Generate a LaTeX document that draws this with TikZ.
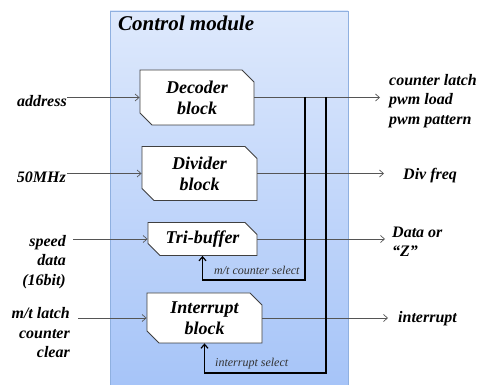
\documentclass[tikz,border=0pt]{standalone}
\usepackage{fontspec}
\setmainfont{Liberation Serif}
\usetikzlibrary{shapes.misc,arrows.meta}
\definecolor{modtop}{HTML}{DEE9FC}
\definecolor{modbot}{HTML}{A6C4F8}
\definecolor{modedge}{HTML}{8FB0E0}
\definecolor{wire}{HTML}{555555}
\tikzset{
  block/.style={chamfered rectangle, chamfered rectangle corners={north east,south west},
    chamfered rectangle xsep=6pt, chamfered rectangle ysep=6pt,
    draw=black!75, line width=0.8pt, fill=white, inner sep=0pt, align=center,
    font=\fontsize{18}{21}\selectfont\bfseries\itshape},
  sig/.style={font=\fontsize{16}{19.5}\selectfont\bfseries\itshape, inner sep=0pt},
  sel/.style={font=\fontsize{12}{13}\selectfont\itshape, inner sep=0pt, text=black!80},
  wirein/.style={draw=wire, line width=0.7pt, -{Straight Barb[length=4pt,width=7pt]}},
  selwire/.style={draw=black, line width=1.2pt, -{Straight Barb[length=4pt,width=7pt]}}
}
\begin{document}
\begin{tikzpicture}[x=1pt,y=-1pt]
\useasboundingbox (0,0) rectangle (483,385);
% module frame with vertical gradient
\shade[top color=modtop, bottom color=modbot] (110,11) rectangle (348,386);
\draw[modedge, line width=0.8pt] (110,386) -- (110,11) -- (348,11) -- (348,386);
\node[anchor=base west, font=\fontsize{21}{24}\selectfont\bfseries\itshape, inner sep=0pt] (title) at (118,31) {Control module};

% blocks
\node[block, minimum width=114pt, minimum height=55pt] (dec) at (197,97.5) {Decoder\\block};
\node[block, minimum width=115pt, minimum height=54pt] (div) at (199.5,173.5) {Divider\\block};
\node[block, minimum width=109pt, minimum height=33pt] (tri) at (202.5,239) {Tri-buffer};
\node[block, minimum width=115pt, minimum height=50pt] (intr) at (204.5,318) {Interrupt\\block};

% input labels
\node[sig, anchor=east] (addr) at (67,101) {address};
\node[sig, anchor=east] (clk) at (66,177) {50MHz};
\node[sig, anchor=east, align=right] (spd) at (66,262) {speed\\data\\(16bit)};
\node[sig, anchor=east, align=right] (mtl) at (70,333) {m/t latch\\counter\\clear};

% output labels
\node[sig, anchor=west, align=left] (pwm) at (389,101) {counter latch\\pwm load\\pwm pattern};
\node[sig, anchor=west] (dfq) at (403,176) {Div freq};
\node[sig, anchor=west, align=left] (dat) at (392,242) {Data or\\``Z''};
\node[sig, anchor=west] (irq) at (398,319) {interrupt};

% select labels
\node[sel, anchor=base west] (mts) at (214,275) {m/t counter select};
\node[sel, anchor=base west] (ins) at (215,367) {interrupt select};

% inputs
\draw[wirein] (addr.east |- dec.west) -- (dec.west);
\draw[wirein] ([xshift=1pt]clk.east |- div.west) -- (div.west);
\draw[wirein] ([xshift=7pt]spd.east |- tri.west) -- (tri.west);
\draw[wirein] ([xshift=8pt]mtl.east |- intr.west) -- (intr.west);

% outputs
\draw[wirein] (dec.east) -- ([xshift=-9pt]pwm.west |- dec.east);
\draw[wirein] (div.east) -- ([xshift=-19pt]dfq.west |- div.east);
\draw[wirein] (tri.east) -- ([xshift=-7pt]dat.west |- tri.east);
\draw[wirein] (intr.east) -- ([xshift=-10pt]irq.west |- intr.east);

% select feedback from decoder
\coordinate (tap1) at (305,97.5);
\coordinate (tap2) at (326,97.5);
\draw[selwire] (tap1) -- (305,280) -| (tri.south);
\draw[selwire] (tap2) -- (326,373) -| (intr.south);
\end{tikzpicture}
\end{document}
